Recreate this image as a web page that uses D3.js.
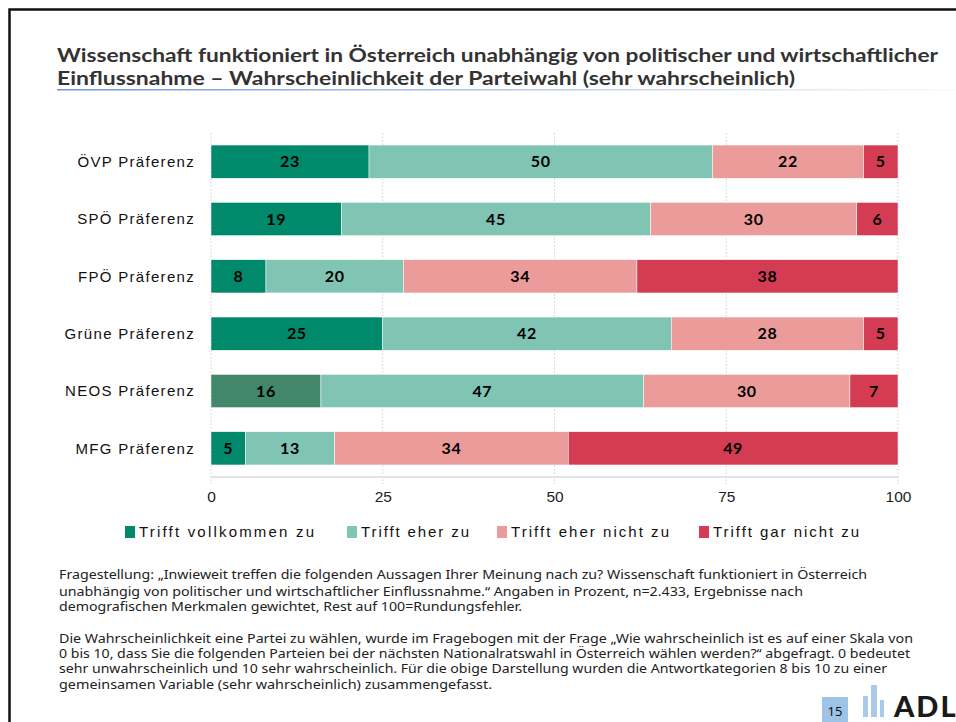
<!DOCTYPE html>
<html>
<head>
<meta charset="utf-8">
<script src="https://cdn.jsdelivr.net/npm/d3@7"></script>
<style>
  body { margin: 0; background: #fff; }
  svg { display: block; }
  .cat { font-family: "Liberation Sans", Arial, sans-serif; font-size: 15px; letter-spacing: 1.3px; fill: #111; }
  .val { font-family: "Lato", "Noto Sans", sans-serif; font-weight: 700; font-size: 16px; letter-spacing: 0.7px; fill: #000; }
  .tick text { font-family: "Liberation Sans", Arial, sans-serif; font-size: 15.5px; fill: #222; }
  .leg { font-family: "Liberation Sans", Arial, sans-serif; font-size: 15px; fill: #111; }
  .title { font-family: "Lato", "Noto Sans", sans-serif; font-weight: 700; font-size: 19px; fill: #333; }
  .note { font-family: "Noto Sans", sans-serif; font-size: 12px; fill: #222; }
</style>
</head>
<body>
<svg id="chart" width="956" height="722"></svg>
<script>
const categories = ["ÖVP Präferenz", "SPÖ Präferenz", "FPÖ Präferenz", "Grüne Präferenz", "NEOS Präferenz", "MFG Präferenz"];
const series = ["Trifft vollkommen zu", "Trifft eher zu", "Trifft eher nicht zu", "Trifft gar nicht zu"];
const vollkommen = [23, 19, 8, 25, 16, 5];
const eher = [50, 45, 20, 42, 47, 13];
const eherNicht = [22, 30, 34, 28, 30, 34];
const garNicht = [5, 6, 38, 5, 7, 49];
const xTicks = [0, 25, 50, 75, 100];

const colors = ["#00896b", "#80c4b4", "#ec9b9b", "#d33c52"];
const neosColor = "#42876c"; // NEOS first segment is drawn in a muted green

const titleLines = [
  "Wissenschaft funktioniert in Österreich unabhängig von politischer und wirtschaftlicher",
  "Einflussnahme – Wahrscheinlichkeit der Parteiwahl (sehr wahrscheinlich)"
];
const notes = [
  "Fragestellung: „Inwieweit treffen die folgenden Aussagen Ihrer Meinung nach zu? Wissenschaft funktioniert in Österreich",
  "unabhängig von politischer und wirtschaftlicher Einflussnahme.“ Angaben in Prozent, n=2.433, Ergebnisse nach",
  "demografischen Merkmalen gewichtet, Rest auf 100=Rundungsfehler.",
  "Die Wahrscheinlichkeit eine Partei zu wählen, wurde im Fragebogen mit der Frage „Wie wahrscheinlich ist es auf einer Skala von",
  "0 bis 10, dass Sie die folgenden Parteien bei der nächsten Nationalratswahl in Österreich wählen werden?“ abgefragt. 0 bedeutet",
  "sehr unwahrscheinlich und 10 sehr wahrscheinlich. Für die obige Darstellung wurden die Antwortkategorien 8 bis 10 zu einer",
  "gemeinsamen Variable (sehr wahrscheinlich) zusammengefasst."
];

const svg = d3.select("#chart");

// frame
svg.append("path")
  .attr("d", "M9.5,722 L9.5,9.5 L956,9.5")
  .attr("fill", "none")
  .attr("stroke", "#111")
  .attr("stroke-width", 2.5);

// title
const grad = svg.append("defs").append("linearGradient").attr("id", "ul");
grad.append("stop").attr("offset", "0%").attr("stop-color", "#6f97d6");
grad.append("stop").attr("offset", "100%").attr("stop-color", "#6f97d6").attr("stop-opacity", 0.05);

const titleW = [881, 738];
titleLines.forEach((t, i) => {
  svg.append("text")
    .attr("class", "title")
    .attr("x", 57)
    .attr("y", 62 + i * 23)
    .attr("textLength", titleW[i])
    .attr("lengthAdjust", "spacingAndGlyphs")
    .text(t);
});
svg.append("rect")
  .attr("x", 57).attr("y", 89).attr("width", 899).attr("height", 1.5)
  .attr("fill", "url(#ul)");

// scales
const x = d3.scaleLinear().domain([0, 100]).range([211, 898]).clamp(true);
const y = d3.scaleBand().domain(categories).range([133, 477]).paddingInner(0.42).paddingOuter(0.21);

// grid
svg.append("g")
  .selectAll("line")
  .data(xTicks)
  .join("line")
  .attr("x1", d => x(d)).attr("x2", d => x(d))
  .attr("y1", 133).attr("y2", 484)
  .attr("stroke", "#cfcfcf")
  .attr("stroke-dasharray", "1.5,2");

svg.append("line")
  .attr("x1", x(0)).attr("x2", x(100))
  .attr("y1", 477).attr("y2", 477)
  .attr("stroke", "#d9d9d9").attr("stroke-width", 1.5);

// stacked data
const rows = categories.map((c, i) => {
  const vals = [vollkommen[i], eher[i], eherNicht[i], garNicht[i]];
  let acc = 0;
  return vals.map((v, k) => {
    const seg = { cat: c, k, v, x0: acc, x1: acc + v };
    acc += v;
    return seg;
  });
}).flat();

const bars = svg.append("g");
bars.selectAll("rect")
  .data(rows)
  .join("rect")
  .attr("x", d => x(d.x0))
  .attr("y", d => y(d.cat))
  .attr("width", d => x(d.x1) - x(d.x0))
  .attr("height", y.bandwidth())
  .attr("fill", d => (d.cat === "NEOS Präferenz" && d.k === 0) ? neosColor : colors[d.k])
  .attr("stroke", "#fff")
  .attr("stroke-width", 0.5);

bars.selectAll("text")
  .data(rows)
  .join("text")
  .attr("class", "val")
  .attr("x", d => (x(d.x0) + x(d.x1)) / 2)
  .attr("y", d => y(d.cat) + y.bandwidth() / 2)
  .attr("dy", "0.36em")
  .attr("text-anchor", "middle")
  .text(d => d.v);

// category labels
svg.append("g")
  .selectAll("text")
  .data(categories)
  .join("text")
  .attr("class", "cat")
  .attr("x", 195)
  .attr("y", d => y(d) + y.bandwidth() / 2)
  .attr("dy", "0.35em")
  .attr("text-anchor", "end")
  .text(d => d);

// x axis
const xAxis = d3.axisBottom(x).tickValues(xTicks).tickSize(0).tickPadding(14);
svg.append("g")
  .attr("transform", "translate(0,477)")
  .call(xAxis)
  .call(g => g.select(".domain").remove());

// legend
const legX = [125, 347, 497, 699];
const legW = [175, 108, 158, 146];
const leg = svg.append("g")
  .selectAll("g")
  .data(series)
  .join("g")
  .attr("transform", (d, i) => `translate(${legX[i]},531)`);
leg.append("rect")
  .attr("x", 0).attr("y", -5).attr("width", 10).attr("height", 12)
  .attr("fill", (d, i) => colors[i]);
leg.append("text")
  .attr("class", "leg")
  .attr("x", 14)
  .attr("y", 1)
  .attr("dy", "0.35em")
  .attr("textLength", (d, i) => legW[i])
  .attr("lengthAdjust", "spacing")
  .text(d => d);

// footnotes
const noteY = [579, 596, 611, 643, 658, 673, 689];
const noteW = [808, 744, 463, 854, 851, 828, 433];
svg.append("g")
  .selectAll("text")
  .data(notes)
  .join("text")
  .attr("class", "note")
  .attr("x", 59)
  .attr("y", (d, i) => noteY[i])
  .attr("textLength", (d, i) => noteW[i])
  .attr("lengthAdjust", "spacingAndGlyphs")
  .text(d => d);

// page number & logo
svg.append("rect").attr("x", 822).attr("y", 697).attr("width", 26).attr("height", 25).attr("fill", "#9dc3e6");
svg.append("text").attr("x", 835).attr("y", 716).attr("text-anchor", "middle")
  .style("font-family", "Noto Sans, sans-serif").style("font-size", "13px").style("fill", "#111").text("15");
const logoBars = [[863, 696, 5], [871, 685, 6], [880, 700, 4]];
logoBars.forEach(b => {
  svg.append("rect").attr("x", b[0]).attr("y", b[1]).attr("width", b[2]).attr("height", 717 - b[1]).attr("fill", "#a9c8ea");
});
svg.append("text").attr("x", 894).attr("y", 717)
  .style("font-family", "Lato, sans-serif").style("font-weight", 900).style("font-size", "29px")
  .style("letter-spacing", "2px").style("fill", "#1a1a1a").text("ADL");
</script>
</body>
</html>
